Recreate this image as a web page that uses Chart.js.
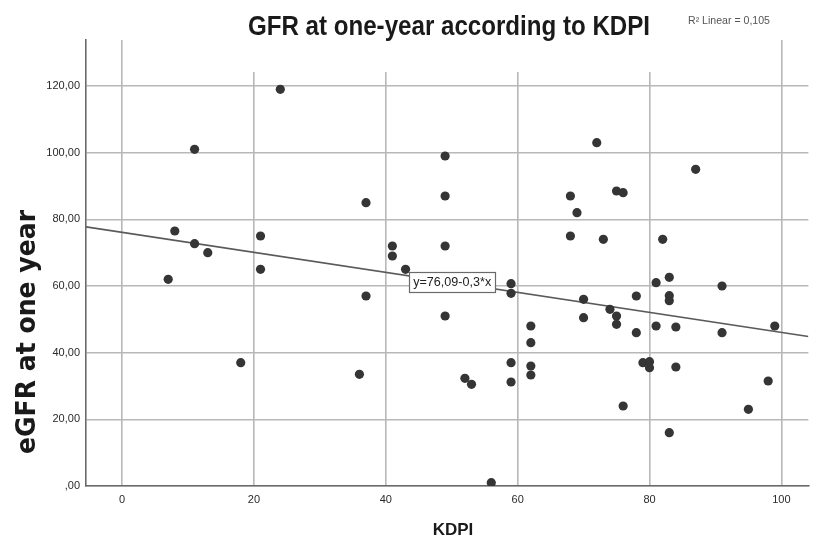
<!DOCTYPE html>
<html>
<head>
<meta charset="utf-8">
<script src="https://cdn.jsdelivr.net/npm/chart.js@4"></script>
<style>
  html, body { margin: 0; padding: 0; background: #fff; }
  #wrap { width: 813px; height: 539px; position: relative; }
</style>
</head>
<body>
<div id="wrap"><canvas id="chart" width="813" height="539"></canvas></div>
<script>
// Data (KDPI vs eGFR at one year)
const kdpi = [7, 8, 11, 11, 13, 18, 21, 21, 24, 36, 37, 37, 41, 41, 43, 49, 49, 49, 49, 52, 53, 56,
  59, 59, 59, 59, 62, 62, 62, 62, 68, 69, 68, 70, 70, 72, 73, 74, 75, 76, 75, 75, 76, 78, 78,
  79, 80, 80, 81, 81, 82, 83, 83, 83, 83, 84, 84, 87, 91, 91, 95, 98, 99];
const egfr = [62, 76.5, 101, 72.7, 70, 37, 75, 65, 119, 33.5, 85, 57, 72, 69, 65, 99, 87, 72, 51, 32.3, 30.5, 1,
  60.7, 57.8, 37, 31.2, 48, 43, 36, 33.3, 87, 82, 75, 56, 50.5, 103, 74, 53, 88.5, 88, 51, 48.5, 24, 57, 46,
  37, 37.3, 35.5, 61, 48, 74, 62.6, 57.1, 55.6, 16, 47.7, 35.7, 95, 60, 46, 23, 31.5, 48];

// Fit line as printed on the chart
const fitIntercept = 76.09;
const fitSlope = -0.3;
const fitLabel = 'y=76,09-0,3*x';
const fitLabelAt = { x: 50, y: 61.3 };
const rSquaredText = 'R\u00B2 Linear = 0,105';

// Axis ranges and ticks
const xMin = -5.47;
const xMax = 104.1;
const yMin = 0;
const yMax = 133.8;
const xTicks = [0, 20, 40, 60, 80, 100];
const yTicks = [0, 20, 40, 60, 80, 100, 120];

const chartTitle = 'GFR at one-year according to KDPI';
const xTitle = 'KDPI';
const yTitle = 'eGFR at one year';

const points = kdpi.map((x, i) => ({ x: x, y: egfr[i] }));
const fitPoints = [xMin, xMax].map(x => ({ x: x, y: fitIntercept + fitSlope * x }));

// Format ticks SPSS-style with comma decimals
function formatY(v) {
  if (v === 0) return ',00';
  return v.toFixed(2).replace('.', ',');
}

// Draw text squeezed horizontally so it spans the target width (condensed look)
function drawCondensed(ctx, text, font, x, y, targetWidth, align) {
  ctx.save();
  ctx.font = font;
  const w = ctx.measureText(text).width;
  const sx = targetWidth / w;
  ctx.translate(x, y);
  ctx.scale(sx, 1);
  ctx.textAlign = align;
  ctx.fillText(text, 0, 0);
  ctx.restore();
}

// Titles, fit label and the white block behind the title
const decorPlugin = {
  id: 'decor',
  afterDatasetsDraw(chart) {
    const ctx = chart.ctx;
    const xs = chart.scales.x;
    const ys = chart.scales.y;

    // fit label box
    const cx = xs.getPixelForValue(fitLabelAt.x);
    const cy = ys.getPixelForValue(fitLabelAt.y);
    const bw = 86, bh = 20;
    const left = Math.round(cx - bw / 2), top = Math.round(cy - bh / 2);
    ctx.save();
    ctx.fillStyle = '#fff';
    ctx.fillRect(left, top, bw, bh);
    ctx.strokeStyle = '#6a6a6a';
    ctx.lineWidth = 1.2;
    ctx.strokeRect(left + 0.5, top + 0.5, bw, bh);
    ctx.fillStyle = '#222';
    ctx.textBaseline = 'middle';
    drawCondensed(ctx, fitLabel, '12px "Liberation Sans", sans-serif', cx + 0.5, cy + 1.5, 78, 'center');
    ctx.restore();
  },
  afterDraw(chart) {
    const ctx = chart.ctx;
    ctx.save();

    // title block covers the tops of the inner gridlines
    ctx.fillStyle = '#fff';
    ctx.fillRect(236, 0, 428, 72);

    ctx.fillStyle = '#1a1a1a';
    ctx.textBaseline = 'middle';
    drawCondensed(ctx, chartTitle, 'bold 27px "Liberation Sans", sans-serif', 449, 28, 402, 'center');

    ctx.fillStyle = '#555';
    drawCondensed(ctx, rSquaredText, '10px "Liberation Sans", sans-serif', 688, 21, 82, 'left');

    // x axis title
    ctx.fillStyle = '#1a1a1a';
    ctx.textAlign = 'center';
    ctx.font = 'bold 17px "Liberation Sans", sans-serif';
    ctx.fillText(xTitle, 453, 530);

    // y axis title, rotated
    ctx.translate(28, 332);
    ctx.rotate(-Math.PI / 2);
    drawCondensed(ctx, yTitle, 'bold 26px "DejaVu Sans", sans-serif', 0, 0, 244, 'center');
    ctx.restore();
  }
};

const gridColor = '#b8b8b8';
const axisColor = '#6a6a6a';
const tickFont = { family: '"Liberation Sans", sans-serif', size: 11 };

new Chart(document.getElementById('chart'), {
  type: 'scatter',
  data: {
    datasets: [
      {
        label: 'Fit',
        type: 'line',
        data: fitPoints,
        borderColor: '#5a5a5a',
        borderWidth: 1.6,
        pointRadius: 0,
        fill: false,
        order: 2
      },
      {
        label: 'Cases',
        data: points,
        backgroundColor: '#353535',
        borderWidth: 0,
        pointRadius: 4.6,
        order: 1
      }
    ]
  },
  options: {
    responsive: false,
    animation: false,
    layout: { padding: { top: 40, right: 0, left: 0, bottom: 0 } },
    plugins: {
      legend: { display: false },
      tooltip: { enabled: false }
    },
    scales: {
      x: {
        type: 'linear',
        min: xMin,
        max: xMax,
        afterBuildTicks: scale => { scale.ticks = xTicks.map(v => ({ value: v })); },
        afterFit: scale => { scale.height = 53; },
        grid: { color: gridColor, lineWidth: 1.6, drawTicks: false },
        border: { display: true, color: axisColor, width: 1.6 },
        ticks: {
          color: '#2a2a2a',
          font: tickFont,
          padding: 7,
          maxRotation: 0,
          callback: v => String(v)
        }
      },
      y: {
        type: 'linear',
        min: yMin,
        max: yMax,
        afterBuildTicks: scale => { scale.ticks = yTicks.map(v => ({ value: v })); },
        afterFit: scale => { scale.width = 86; },
        grid: { color: gridColor, lineWidth: 1.6, drawTicks: false },
        border: { display: true, color: axisColor, width: 1.6 },
        ticks: {
          color: '#2a2a2a',
          font: tickFont,
          padding: 6,
          callback: v => formatY(v)
        }
      }
    }
  },
  plugins: [decorPlugin]
});
</script>
</body>
</html>
